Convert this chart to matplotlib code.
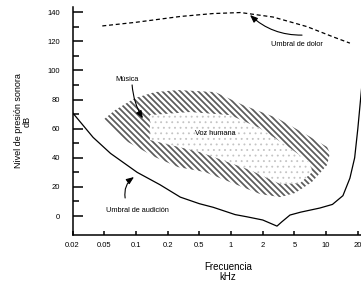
import matplotlib
matplotlib.use("Agg")
import matplotlib.pyplot as plt
from matplotlib.patches import Polygon
from matplotlib.collections import LineCollection
from matplotlib.transforms import IdentityTransform
import numpy as np

plt.rcParams['font.family'] = ['Liberation Sans', 'DejaVu Sans']

# x axis is categorical: tick positions 0..9 are equally spaced
freq_labels = ['0.02', '0.05', '0.1', '0.2', '0.5', '1', '2', '5', '10', '20']

# hearing threshold (position, dB)
hear_x = [0, 0.65, 1.2, 2.04, 2.76, 3.4, 4.0, 4.44, 5.13, 5.5, 6.0, 6.45, 6.6,
          6.86, 7.2, 7.5, 7.8, 8.2, 8.53, 8.75, 8.9, 9.0, 9.12]
hear_y = [71, 54, 43, 30, 21.5, 13, 8.5, 6, 1, -0.5, -2.7, -6.9, -4,
          0.7, 2.7, 4.1, 5.5, 8, 14, 26, 40, 60, 88]

# pain threshold
pain_x = [0.94, 2.0, 3.4, 4.43, 5.3, 6.33, 7.4, 8.22, 8.75]
pain_y = [130.5, 133, 137, 139, 139.7, 136.6, 130, 123, 118.7]

# music region outline
music_x = [0.96, 1.34, 1.97, 2.6, 3.33, 4.5, 5.38, 6.45, 7.4, 8.03, 8.12,
           8.03, 7.55, 7.02, 6.55, 5.92, 5.28, 4.18, 3.33, 2.6, 1.75, 1.12]
music_y = [65.9, 72.7, 81, 85.1, 86.5, 85.1, 76.2, 67.3, 55.6, 47.4, 43.2,
           35, 23.3, 15.8, 13, 15.1, 20.6, 30.2, 33.6, 40.5, 50.8, 62.5]

# human voice region outline
voice_x = [2.44, 3.7, 4.97, 5.9, 6.86, 7.5, 7.56, 7.18, 6.55, 5.6, 4.02, 2.44]
voice_y = [69.3, 71.4, 69.3, 60.4, 46.7, 36.4, 30.2, 22.6, 22, 31.6, 43.9, 52.2]

fig = plt.figure(figsize=(3.61, 2.83), dpi=100)
ax = fig.add_axes([72.5 / 361, 1 - 235 / 283, 1 - 72.5 / 361, 228 / 283])

music = Polygon(np.column_stack([music_x, music_y]), closed=True,
                facecolor='white', edgecolor='none', lw=0)
ax.add_patch(music)

# diagonal stripes clipped to the music region
segs = [[(c, 300), (c + 300, 0)] for c in range(-300, 400, 6)]
stripes = LineCollection(segs, colors='#5a5a5a', linewidths=1.25,
                         transform=IdentityTransform())
ax.add_collection(stripes, autolim=False)
stripes.set_clip_path(music)

plt.rcParams['hatch.linewidth'] = 0.6
voice = Polygon(np.column_stack([voice_x, voice_y]), closed=True,
                facecolor='white', edgecolor='#c4c4c4', hatch='...', lw=0,
                zorder=2)
ax.add_patch(voice)

ax.plot(hear_x, hear_y, color='black', lw=0.9, zorder=3)
ax.plot(pain_x, pain_y, color='black', lw=0.9, dashes=(3.2, 2.2), zorder=3)

fs = 5.3
ax.text(1.72, 94, 'Música', fontsize=fs, ha='center', va='center')
ax.text(4.5, 56.5, 'Voz humana', fontsize=fs, ha='center', va='center',
        zorder=4)
ax.text(7.07, 118, 'Umbral de dolor', fontsize=fs, ha='center', va='center')
ax.text(2.05, 3.6, 'Umbral de audición', fontsize=fs, ha='center', va='center')

arrow = dict(arrowstyle='-|>,head_length=0.45,head_width=0.18', color='black',
             lw=0.8, shrinkA=0, shrinkB=0)
ax.annotate('', xy=(2.22, 67), xytext=(1.88, 90),
            arrowprops=dict(arrow, connectionstyle='arc3,rad=0.12'), zorder=4)
ax.annotate('', xy=(5.6, 138), xytext=(7.24, 124.2),
            arrowprops=dict(arrow, connectionstyle='arc3,rad=-0.2'))
ax.annotate('', xy=(1.94, 26.8), xytext=(1.66, 12.4),
            arrowprops=dict(arrow, connectionstyle='arc3,rad=-0.3'))

ax.set_xlim(0, 9.1)
ax.set_ylim(-13, 143.5)
ax.set_xticks(range(len(freq_labels)))
ax.set_xticklabels(freq_labels)
ax.set_yticks(np.arange(0, 141, 20))
ax.set_yticks(np.arange(10, 131, 20), minor=True)
ax.tick_params(axis='y', which='major', direction='in', length=7, width=1.1,
               pad=9, labelsize=5.5)
ax.tick_params(axis='y', which='minor', direction='in', length=4.3, width=1.1)
ax.tick_params(axis='x', direction='in', length=3, width=1.1, pad=5,
               labelsize=5.5)
for s in ['top', 'right']:
    ax.spines[s].set_visible(False)
for s in ['left', 'bottom']:
    ax.spines[s].set_linewidth(1.1)

fig.text(23 / 361, 1 - 121 / 283, 'Nivel de presión sonora\ndB', rotation=90,
         ha='center', va='center', fontsize=6.5, linespacing=1.0,
         multialignment='center')
fig.text(228 / 361, 1 - 272 / 283, 'Frecuencia\nkHz', ha='center', va='center',
         fontsize=7, linespacing=1.1, multialignment='center')

fig.savefig('out.png', dpi=100)
